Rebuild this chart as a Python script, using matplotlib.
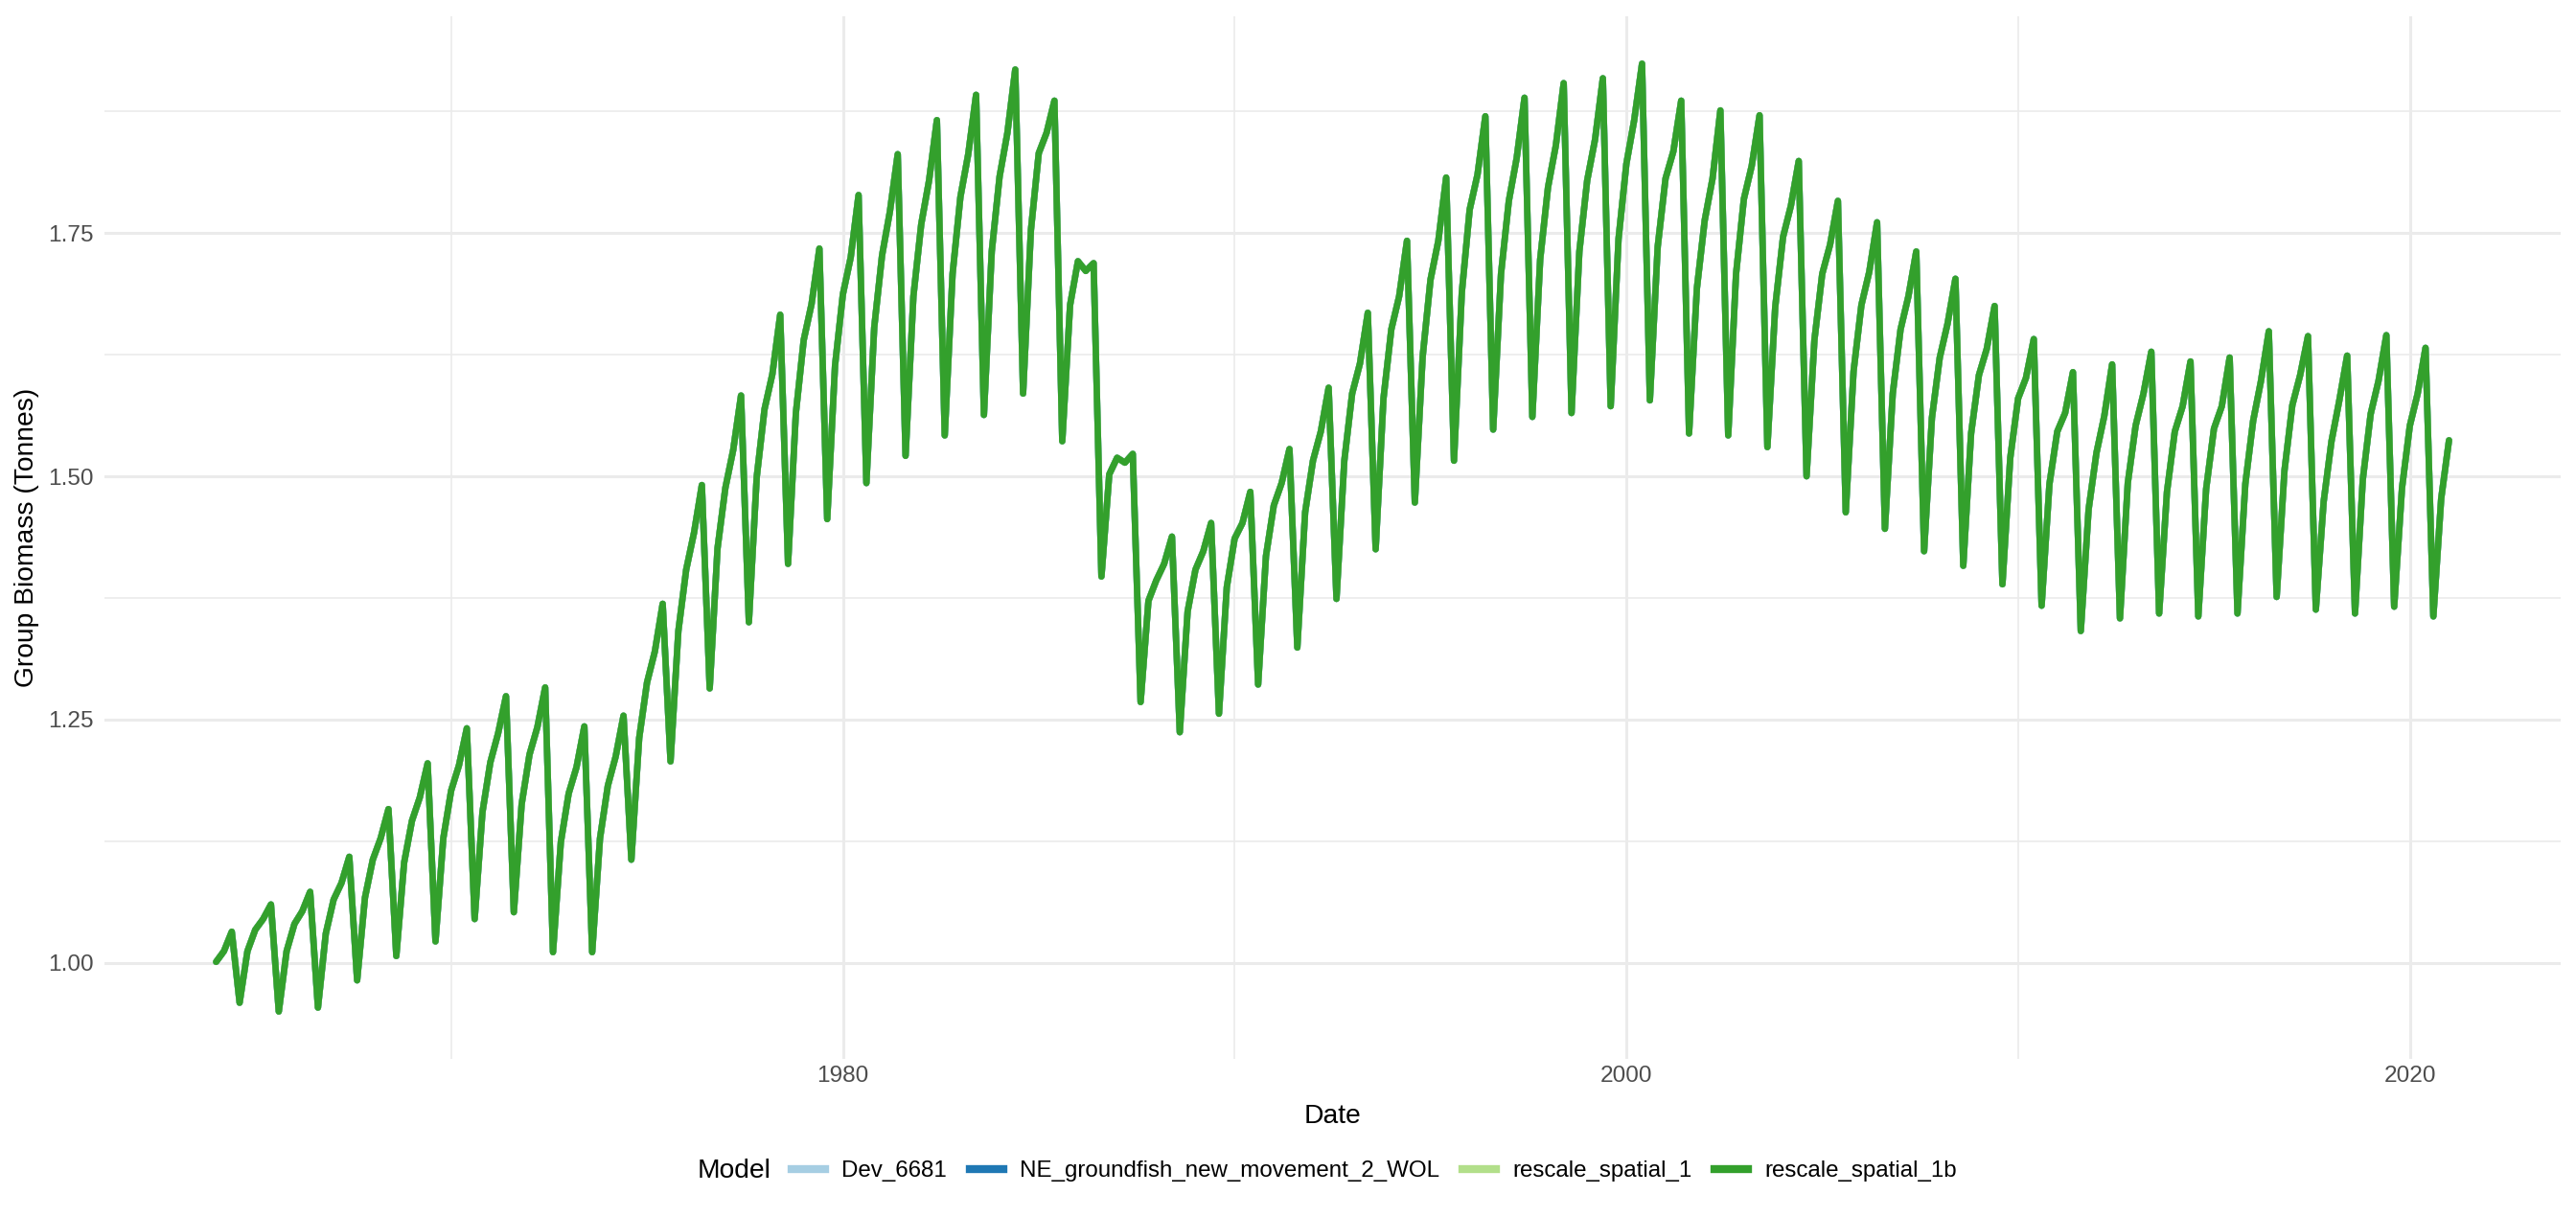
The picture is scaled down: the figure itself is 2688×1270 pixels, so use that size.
import numpy as np
import matplotlib
matplotlib.use("Agg")
import matplotlib.pyplot as plt
from matplotlib.lines import Line2D
from matplotlib.ticker import FixedLocator, NullFormatter

plt.rcParams['font.family'] = ['Liberation Sans', 'DejaVu Sans']

# ---- data -------------------------------------------------------------
start_year = 1964.0
steps_per_year = 5   # 73-day output steps

# Group biomass (all models overlap almost exactly), 5 values per year
biomass = [
    1.001, 1.012, 1.032, 0.959, 1.012,   # 1964
    1.034, 1.045, 1.060, 0.950, 1.012,   # 1965
    1.040, 1.053, 1.073, 0.954, 1.030,   # 1966
    1.065, 1.082, 1.109, 0.982, 1.067,   # 1967
    1.106, 1.128, 1.158, 1.007, 1.103,   # 1968
    1.146, 1.170, 1.205, 1.022, 1.128,   # 1969
    1.177, 1.203, 1.241, 1.045, 1.155,   # 1970
    1.206, 1.236, 1.274, 1.052, 1.163,   # 1971
    1.214, 1.242, 1.283, 1.011, 1.124,   # 1972
    1.174, 1.201, 1.243, 1.011, 1.128,   # 1973
    1.182, 1.212, 1.254, 1.106, 1.231,   # 1974
    1.288, 1.320, 1.369, 1.207, 1.341,   # 1975
    1.404, 1.442, 1.491, 1.282, 1.426,   # 1976
    1.488, 1.527, 1.583, 1.350, 1.499,   # 1977
    1.569, 1.605, 1.666, 1.410, 1.565,   # 1978
    1.640, 1.677, 1.734, 1.456, 1.614,   # 1979
    1.687, 1.725, 1.789, 1.493, 1.653,   # 1980
    1.727, 1.772, 1.831, 1.521, 1.685,   # 1981
    1.759, 1.804, 1.866, 1.542, 1.708,   # 1982
    1.787, 1.831, 1.892, 1.563, 1.731,   # 1983
    1.808, 1.853, 1.918, 1.585, 1.753,   # 1984
    1.832, 1.853, 1.886, 1.536, 1.676,   # 1985
    1.721, 1.711, 1.719, 1.397, 1.502,   # 1986
    1.519, 1.514, 1.523, 1.268, 1.372,   # 1987
    1.393, 1.410, 1.438, 1.237, 1.361,   # 1988
    1.404, 1.423, 1.452, 1.256, 1.386,   # 1989
    1.436, 1.452, 1.484, 1.286, 1.418,   # 1990
    1.470, 1.493, 1.528, 1.324, 1.463,   # 1991
    1.516, 1.546, 1.591, 1.374, 1.516,   # 1992
    1.585, 1.616, 1.668, 1.425, 1.580,   # 1993
    1.651, 1.685, 1.742, 1.473, 1.623,   # 1994
    1.702, 1.742, 1.807, 1.516, 1.689,   # 1995
    1.774, 1.810, 1.870, 1.548, 1.708,   # 1996
    1.783, 1.827, 1.889, 1.561, 1.723,   # 1997
    1.797, 1.840, 1.904, 1.565, 1.731,   # 1998
    1.804, 1.846, 1.909, 1.572, 1.744,   # 1999
    1.821, 1.866, 1.924, 1.578, 1.736,   # 2000
    1.806, 1.834, 1.886, 1.544, 1.693,   # 2001
    1.763, 1.806, 1.876, 1.542, 1.708,   # 2002
    1.785, 1.819, 1.871, 1.530, 1.674,   # 2003
    1.746, 1.778, 1.824, 1.500, 1.640,   # 2004
    1.708, 1.738, 1.783, 1.463, 1.608,   # 2005
    1.676, 1.710, 1.761, 1.446, 1.585,   # 2006
    1.651, 1.685, 1.731, 1.423, 1.560,   # 2007
    1.622, 1.657, 1.703, 1.408, 1.544,   # 2008
    1.604, 1.631, 1.675, 1.389, 1.519,   # 2009
    1.580, 1.601, 1.641, 1.367, 1.492,   # 2010
    1.546, 1.565, 1.607, 1.341, 1.466,   # 2011
    1.524, 1.562, 1.615, 1.354, 1.493,   # 2012
    1.552, 1.585, 1.628, 1.359, 1.484,   # 2013
    1.546, 1.572, 1.618, 1.356, 1.487,   # 2014
    1.549, 1.572, 1.622, 1.359, 1.492,   # 2015
    1.557, 1.598, 1.649, 1.376, 1.506,   # 2016
    1.573, 1.604, 1.644, 1.363, 1.474,   # 2017
    1.536, 1.578, 1.624, 1.359, 1.497,   # 2018
    1.564, 1.598, 1.645, 1.366, 1.488,   # 2019
    1.552, 1.585, 1.632, 1.356, 1.477,   # 2020
    1.537,                               # 2021
]

models = ["Dev_6681", "NE_groundfish_new_movement_2_WOL",
          "rescale_spatial_1", "rescale_spatial_1b"]
model_colors = ["#A6CEE3", "#1F78B4", "#B2DF8A", "#33A02C"]

x_major = [1980, 2000, 2020]
x_minor = [1970, 1990, 2010]
y_major = [1.00, 1.25, 1.50, 1.75]
y_minor = [1.125, 1.375, 1.625, 1.875]

# ---- figure -------------------------------------------------------------
W, H = 2688, 1270
dpi = 200
fig = plt.figure(figsize=(W / dpi, H / dpi), dpi=dpi)
ax = fig.add_axes([109 / W, 1 - 1105 / H, (2672 - 109) / W, (1105 - 17) / H])

dates = start_year + np.arange(len(biomass)) / steps_per_year
vals = np.array(biomass)

for name, col in zip(models, model_colors):
    ax.plot(dates, vals, color=col, lw=2.4, solid_joinstyle='round',
            solid_capstyle='round', label=name, zorder=3)

ax.margins(x=0.05, y=0.05)

for s in ax.spines.values():
    s.set_visible(False)
ax.set_facecolor("white")

ax.xaxis.set_major_locator(FixedLocator(x_major))
ax.xaxis.set_minor_locator(FixedLocator(x_minor))
ax.yaxis.set_major_locator(FixedLocator(y_major))
ax.yaxis.set_minor_locator(FixedLocator(y_minor))
ax.set_xticklabels([str(v) for v in x_major])
ax.set_yticklabels([f"{v:.2f}" for v in y_major])
ax.xaxis.set_minor_formatter(NullFormatter())
ax.yaxis.set_minor_formatter(NullFormatter())

ax.grid(which='major', color='#EBEBEB', lw=1.1, zorder=0)
ax.grid(which='minor', color='#EBEBEB', lw=0.6, zorder=0)
ax.set_axisbelow(True)
ax.tick_params(which='both', length=0)
ax.tick_params(axis='both', which='major', labelsize=8.8, labelcolor='#4D4D4D')
ax.tick_params(axis='x', which='major', pad=2.5)
ax.tick_params(axis='y', which='major', pad=4)

ax.set_xlabel("Date", fontsize=10.2, color='black', labelpad=6.5)
ax.set_ylabel("Group Biomass (Tonnes)", fontsize=10.2, color='black', labelpad=3.5)

# legend at bottom, title inline on the left
handles = [Line2D([0], [0], color=c, lw=3) for c in model_colors]
fig.text(728 / W, 1 - 1222 / H, "Model", fontsize=10.2, ha='left', va='center')
fig.legend(handles, models, loc='center left',
           bbox_to_anchor=(826 / W, 1 - 1222 / H), ncol=4, frameon=False,
           fontsize=8.7, handlelength=1.45, handletextpad=0.7,
           columnspacing=1.0, borderpad=0, borderaxespad=0)

fig.savefig("out.png", dpi=dpi, facecolor='white')
